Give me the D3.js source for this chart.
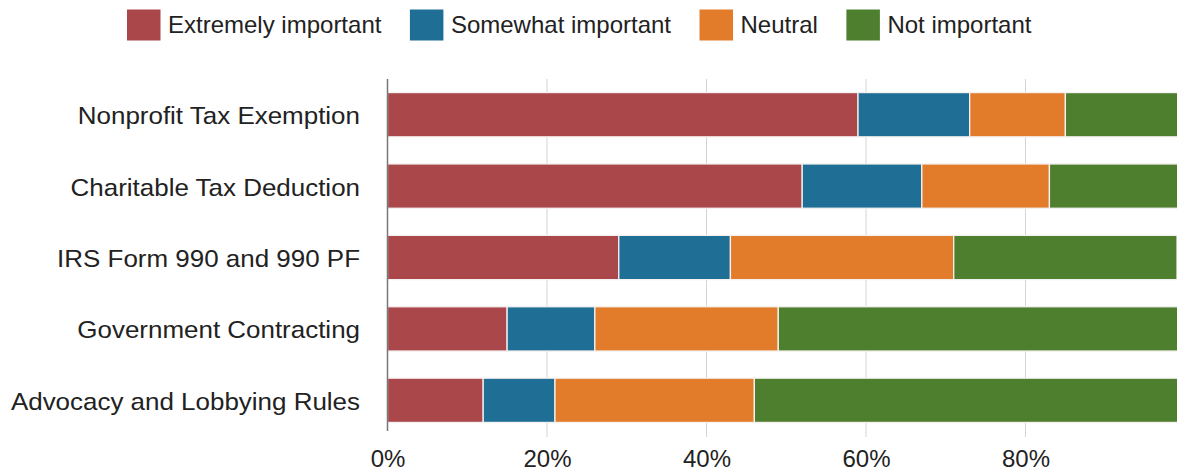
<!DOCTYPE html>
<html><head><meta charset="utf-8">
<script src="https://cdn.jsdelivr.net/npm/d3@7"></script>
<style>
html,body{margin:0;padding:0;background:#fff;}
svg{display:block;font-family:"Liberation Sans",Arial,Helvetica,sans-serif;}
</style></head>
<body>
<svg id="chart" width="1177" height="476"></svg>
<script>
const categories = ["Nonprofit Tax Exemption","Charitable Tax Deduction","IRS Form 990 and 990 PF","Government Contracting","Advocacy and Lobbying Rules"];
const seriesNames = ["Extremely important","Somewhat important","Neutral","Not important"];
const extremely = [59, 52, 29, 15, 12];
const somewhat  = [14, 15, 14, 11, 9];
const neutral   = [12, 16, 28, 23, 25];
const notImp    = [15, 17, 28, 51, 54];
const tickValues = [0, 20, 40, 60, 80];
const colors = ["#a9474b","#1f6e95","#e27c2b","#4e7f2f"];

const svg = d3.select("#chart");
const x = d3.scaleLinear().domain([0,100]).range([387.5, 1185]);
const y = d3.scaleBand().domain(categories).range([79, 436]).paddingInner(0.38).paddingOuter(0.19);

const rows = categories.map((c,i)=>({cat:c, "Extremely important":extremely[i], "Somewhat important":somewhat[i], "Neutral":neutral[i], "Not important":notImp[i]}));
const stacked = d3.stack().keys(seriesNames)(rows);

// gridlines
svg.append("g").selectAll("line").data(tickValues.filter(t=>t>0)).join("line")
  .attr("x1",d=>x(d)).attr("x2",d=>x(d)).attr("y1",79).attr("y2",437)
  .attr("stroke","#d4d4d4").attr("stroke-width",1);

// bars
svg.append("g").selectAll("g").data(stacked).join("g")
  .attr("fill",(d,i)=>colors[i])
  .selectAll("rect").data(d=>d).join("rect")
  .attr("x",d=>x(d[0])).attr("width",d=>x(d[1])-x(d[0]))
  .attr("y",d=>y(d.data.cat)).attr("height",y.bandwidth())
  .attr("stroke","#f4f1ee").attr("stroke-width",1.3);

// y axis line
svg.append("line").attr("x1",x(0)).attr("x2",x(0)).attr("y1",79).attr("y2",431)
  .attr("stroke","#777").attr("stroke-width",1.5);

// y labels (slightly wide face, like the reference)
svg.append("g").selectAll("text").data(categories).join("text")
  .attr("transform",d=>`translate(360,${y(d)+y.bandwidth()/2+9.5}) scale(1.1,1)`)
  .attr("text-anchor","end").attr("font-size",23.6).attr("fill","#222")
  .text(d=>d);

// x axis labels
const xAxis = d3.axisBottom(x).tickValues(tickValues).tickFormat(d=>d+"%").tickSize(0).tickPadding(0);
const gx = svg.append("g").attr("transform","translate(0,467)").call(xAxis);
gx.select(".domain").remove();
gx.selectAll("text").attr("font-size",24).attr("fill","#222")
  .attr("font-family","Liberation Sans, Arial, sans-serif").attr("dy","0").attr("y",0);

// legend
const leg = svg.append("g");
let lx = 127;
seriesNames.forEach((s,i)=>{
  leg.append("rect").attr("x",lx).attr("y",9.5).attr("width",33.5).attr("height",31).attr("fill",colors[i]);
  const t = leg.append("text").attr("x",lx+41).attr("y",33.3).attr("font-size",24).attr("fill","#222").text(s);
  lx = lx + 41 + t.node().getComputedTextLength() + 28.5;
});
</script>
</body></html>
